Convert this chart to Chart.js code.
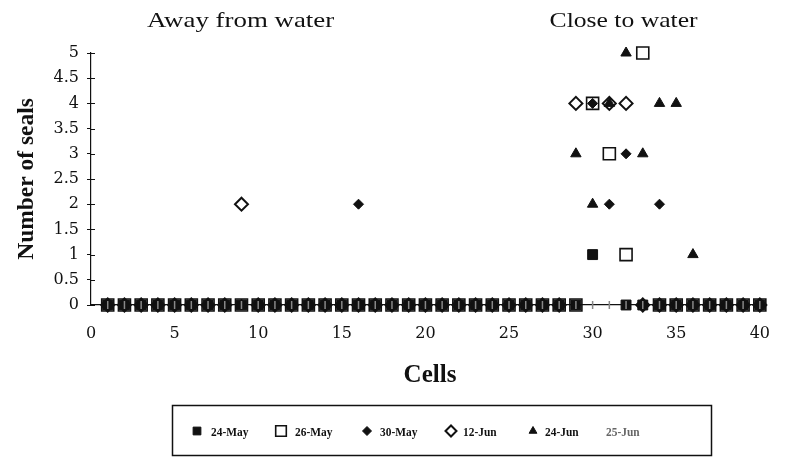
<!DOCTYPE html>
<html>
<head>
<meta charset="utf-8">
<script src="https://cdn.jsdelivr.net/npm/chart.js@4.4.1/dist/chart.umd.min.js"></script>
<style>
  html, body { margin: 0; padding: 0; background: #fff; }
  #wrap { width: 789px; height: 460px; }
</style>
</head>
<body>
<div id="wrap"><canvas id="seal-chart" width="789" height="460"></canvas></div>
<script>
// cells along the transect, 1..40
const cells = [
  1, 2, 3, 4, 5, 6, 7, 8, 9, 10,
  11, 12, 13, 14, 15, 16, 17, 18, 19, 20,
  21, 22, 23, 24, 25, 26, 27, 28, 29, 30,
  31, 32, 33, 34, 35, 36, 37, 38, 39, 40
];

const seriesNames = ["24-May", "26-May", "30-May", "12-Jun", "24-Jun", "25-Jun"];

// number of seals per cell, one array per survey date (null = no marker)
const may24 = [
  0, 0, 0, 0, 0, 0, 0, 0, 0, 0,
  0, 0, 0, 0, 0, 0, 0, 0, 0, 0,
  0, 0, 0, 0, 0, 0, 0, 0, 0, 1,
  null, 0, 0, 0, 0, 0, 0, 0, 0, 0
];
const may26 = [
  0, 0, 0, 0, 0, 0, 0, 0, 0, 0,
  0, 0, 0, 0, 0, 0, 0, 0, 0, 0,
  0, 0, 0, 0, 0, 0, 0, 0, 0, 4,
  3, 1, 5, 0, 0, 0, 0, 0, 0, 0
];
const may30 = [
  0, 0, 0, 0, 0, 0, 0, 0, 0, 0,
  0, 0, 0, 0, 0, 2, 0, 0, 0, 0,
  0, 0, 0, 0, 0, 0, 0, 0, 0, 4,
  2, 3, 0, 2, 0, 0, 0, 0, 0, 0
];
const jun12 = [
  0, 0, 0, 0, 0, 0, 0, 0, 2, 0,
  0, 0, 0, 0, 0, 0, 0, 0, 0, 0,
  0, 0, 0, 0, 0, 0, 0, 0, 4, null,
  4, 4, 0, 0, 0, 0, 0, 0, 0, 0
];
const jun24 = [
  0, 0, 0, 0, 0, 0, 0, 0, 0, 0,
  0, 0, 0, 0, 0, 0, 0, 0, 0, 0,
  0, 0, 0, 0, 0, 0, 0, 0, 3, 2,
  4, 5, 3, 4, 4, 1, 0, 0, 0, 0
];
const jun25 = [
  0, 0, 0, 0, 0, 0, 0, 0, 0, 0,
  0, 0, 0, 0, 0, 0, 0, 0, 0, 0,
  0, 0, 0, 0, 0, 0, 0, 0, 0, 0,
  0, 0, 0, 0, 0, 0, 0, 0, 0, 0
];

const xTicks = [0, 5, 10, 15, 20, 25, 30, 35, 40];
const yTicks = [0, 0.5, 1, 1.5, 2, 2.5, 3, 3.5, 4, 4.5, 5];
const zoneTitles = ["Away from water", "Close to water"];
const yTitle = "Number of seals";
const xTitle = "Cells";

const allSeries = [may24, may26, may30, jun12, jun24, jun25];

// marker look for each series (chart size, legend size)
const markerStyles = [
  { pointStyle: "rect",     radius: 7,   rot: 0,  bg: "#111", border: "#111", bw: 1,   legendRadius: 5.5 },
  { pointStyle: "rect",     radius: 8.5, rot: 0,  bg: "rgba(255,255,255,0)", border: "#111", bw: 1.6, legendRadius: 7.5 },
  { pointStyle: "rectRot",  radius: 5,   rot: 0,  bg: "#111", border: "#111", bw: 1,   legendRadius: 4.5 },
  { pointStyle: "rectRot",  radius: 6.5, rot: 0,  bg: "rgba(255,255,255,0)", border: "#111", bw: 2,   legendRadius: 5.5 },
  { pointStyle: "triangle", radius: 6,   rot: 0,  bg: "#111", border: "#111", bw: 1,   legendRadius: 4.5 },
  { pointStyle: "line",     radius: 4,   rot: 90, bg: "#888", border: "#888", bw: 1.5, legendRadius: 0 }
];
const legendItemX = [197, 281, 367, 451, 533, 596];
const legendTextX = [211, 295, 380, 463, 545, 606];

function drawText(ctx, text, x, y, font, scaleX, align) {
  ctx.save();
  ctx.font = font;
  ctx.textBaseline = "alphabetic";
  const w = ctx.measureText(text).width * scaleX;
  let left = x;
  if (align === "center") left = x - w / 2;
  ctx.translate(left, y);
  ctx.scale(scaleX, 1);
  ctx.textAlign = "left";
  ctx.fillText(text, 0, 0);
  ctx.restore();
}

const decorations = {
  id: "decorations",
  beforeDraw(chart) {
    const ctx = chart.ctx;
    ctx.save();
    ctx.fillStyle = "#fff";
    ctx.fillRect(0, 0, chart.width, chart.height);
    ctx.restore();
  },
  afterDraw(chart) {
    const { ctx } = chart;
    const xs = chart.scales.x;
    const ys = chart.scales.y;
    ctx.save();
    ctx.fillStyle = "#111";
    ctx.strokeStyle = "#111";

    // inner half of the y tick marks
    ctx.lineWidth = 1;
    ys.ticks.forEach((t) => {
      const py = Math.round(ys.getPixelForValue(t.value)) + 0.5;
      ctx.beginPath();
      ctx.moveTo(xs.left, py);
      ctx.lineTo(xs.left + 4, py);
      ctx.stroke();
    });

    // zone titles
    drawText(ctx, zoneTitles[0], xs.getPixelForValue(8.95), 27, "21px 'Liberation Serif'", 1.28, "center");
    drawText(ctx, zoneTitles[1], xs.getPixelForValue(31.85), 27, "21px 'Liberation Serif'", 1.22, "center");

    // axis titles
    drawText(ctx, xTitle, 430, 382, "bold 25px 'Liberation Serif'", 1.0, "center");
    ctx.save();
    ctx.translate(33, 179);
    ctx.rotate(-Math.PI / 2);
    drawText(ctx, yTitle, 0, 0, "bold 23px 'Liberation Serif'", 1.02, "center");
    ctx.restore();

    // legend box
    ctx.lineWidth = 1.5;
    ctx.strokeRect(172.5, 405.5, 539, 50);

    seriesNames.forEach((name, i) => {
      const st = markerStyles[i];
      if (st.legendRadius > 0) {
        ctx.fillStyle = st.bg;
        ctx.strokeStyle = st.border;
        ctx.lineWidth = st.bw;
        Chart.helpers.drawPoint(ctx, {
          pointStyle: st.pointStyle,
          radius: st.legendRadius,
          rotation: 0,
          borderWidth: st.bw
        }, legendItemX[i], 431);
      }
      ctx.fillStyle = i === 5 ? "#666" : "#111";
      drawText(ctx, name, legendTextX[i], 436, "bold 12px 'Liberation Serif'", 0.95, "left");
    });
    ctx.restore();
  }
};

const datasets = allSeries.map((values, i) => {
  const st = markerStyles[i];
  return {
    label: seriesNames[i],
    data: cells.map((c, k) => ({ x: c, y: values[k] })),
    pointStyle: st.pointStyle,
    pointRotation: st.rot,
    pointRadius: st.radius,
    pointBackgroundColor: st.bg,
    pointBorderColor: st.border,
    pointBorderWidth: st.bw,
    showLine: false,
    clip: false,
    order: allSeries.length - i
  };
});

new Chart(document.getElementById("seal-chart"), {
  type: "scatter",
  data: { datasets: datasets },
  options: {
    responsive: false,
    animation: false,
    devicePixelRatio: 1,
    layout: { padding: { top: 53, right: 18, bottom: 0, left: 0 } },
    plugins: {
      legend: { display: false },
      tooltip: { enabled: false }
    },
    scales: {
      x: {
        type: "linear",
        min: 0,
        max: 40,
        afterBuildTicks: (s) => { s.ticks = xTicks.map((v) => ({ value: v })); },
        afterFit: (s) => { s.height = 155; },
        ticks: {
          color: "#111",
          padding: 19,
          maxRotation: 0,
          callback: (v) => String(v),
          font: { family: "'DejaVu Serif'", size: 16 }
        },
        grid: { display: true, drawOnChartArea: false, drawTicks: false, color: "#111" },
        border: { color: "#111", width: 1.2 }
      },
      y: {
        type: "linear",
        min: 0,
        max: 5,
        afterBuildTicks: (s) => { s.ticks = yTicks.map((v) => ({ value: v })); },
        afterFit: (s) => { s.width = 91; },
        ticks: {
          color: "#111",
          padding: 8,
          callback: (v) => String(v),
          font: { family: "'DejaVu Serif'", size: 16 }
        },
        grid: { display: true, drawOnChartArea: false, drawTicks: true, tickLength: 4, color: "#111" },
        border: { color: "#111", width: 1.2 }
      }
    }
  },
  plugins: [decorations]
});
</script>
</body>
</html>
